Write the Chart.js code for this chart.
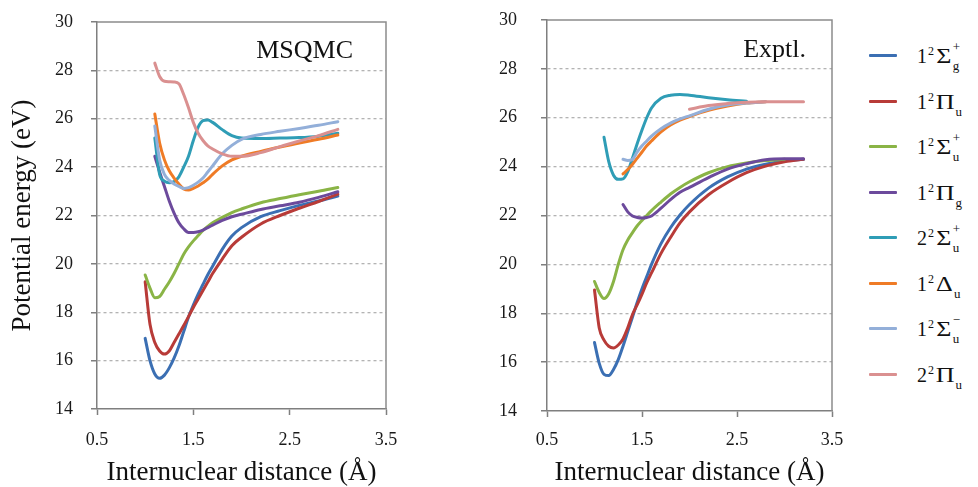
<!DOCTYPE html>
<html lang="en">
<head>
<meta charset="UTF-8">
<title>Potential energy curves: MSQMC vs Exptl.</title>
<style>
  body { margin: 0; background: #fff; font-family: 'Liberation Serif', 'DejaVu Serif', serif; color: #111; }
  #wrap { position: relative; width: 978px; height: 487px; overflow: hidden; }
  #calcBox { position: absolute; left: 0; top: 0; }
  #exptBox { position: absolute; left: 400px; top: 0; }
  .row { position: absolute; left: 869px; height: 24px; width: 109px; }
  .swatch { position: absolute; left: 0; top: 10px; width: 28px; height: 3px; border-radius: 1px; }
  .lab { position: absolute; left: 48px; top: 0; font-size: 20px; line-height: 24px; white-space: nowrap; }
  .lab .n2 { font-size: 12px; position: relative; top: -8px; margin: 0 1px 0 1px; }
  .lab .gr { display: inline-block; transform: scaleX(1.3); margin: 0 2px 0 3px; }
  .ix { display: inline-block; position: relative; width: 10px; height: 24px; vertical-align: top; }
  .ix .p { position: absolute; left: 1px; top: -4px; font-size: 13px; line-height: 13px; }
  .ix .b { position: absolute; left: 1px; top: 15px; font-size: 13px; line-height: 13px; }
</style>
</head>
<body>
<div id="wrap">
  <div id="calcBox"><canvas id="calcChart" width="400" height="487"></canvas></div>
  <div id="exptBox"><canvas id="exptChart" width="450" height="487"></canvas></div>
  <div id="legend"></div>
</div>

<script src="https://cdn.jsdelivr.net/npm/chart.js"></script>
<script>
  // axis ticks
  const xTicks = [0.5, 1.5, 2.5, 3.5];
  const yTicks = [14, 16, 18, 20, 22, 24, 26, 28, 30];

  // states (legend order)
  const stateNum = ['1', '1', '1', '1', '2', '1', '1', '2'];
  const stateSym = ['Σ', 'Π', 'Σ', 'Π', 'Σ', 'Δ', 'Σ', 'Π'];
  const stateSup = ['+', '', '+', '', '+', '', '−', ''];
  const stateSub = ['g', 'u', 'u', 'g', 'u', 'u', 'u', 'u'];
  const stateColors = ['#3b6fb3', '#b83b38', '#8ab446', '#6c4a9c', '#2f9db6', '#ef7b26', '#93afd9', '#da9090'];

  // MSQMC curves, internuclear distance in Å, energy in eV
  const calcR = [1.0, 1.05, 1.1, 1.15, 1.2, 1.25, 1.3, 1.35, 1.4, 1.45, 1.5, 1.55, 1.6, 1.65, 1.7, 1.8, 1.9, 2.0, 2.2, 2.4, 2.6, 2.8, 3.0];
  const calcSigmaGp = [16.92, 16.0, 15.45, 15.27, 15.4, 15.7, 16.1, 16.6, 17.2, 17.8, 18.3, 18.75, 19.15, 19.55, 19.9, 20.6, 21.15, 21.5, 21.95, 22.2, 22.42, 22.6, 22.8];
  const calcPiU = [19.26, 17.5, 16.75, 16.4, 16.27, 16.4, 16.75, 17.1, 17.45, 17.82, 18.2, 18.55, 18.9, 19.25, 19.6, 20.2, 20.75, 21.1, 21.65, 22.0, 22.3, 22.58, 22.88];
  const calcSigmaUp = [19.54, 19.0, 18.6, 18.65, 18.95, 19.25, 19.6, 20.0, 20.4, 20.7, 20.95, 21.17, 21.38, 21.55, 21.7, 21.92, 22.12, 22.27, 22.53, 22.7, 22.86, 23.0, 23.16];
  const calcPiG = [null, null, 24.45, 23.8, 23.2, 22.6, 22.1, 21.7, 21.45, 21.3, 21.3, 21.33, 21.4, 21.5, 21.6, 21.8, 21.95, 22.05, 22.25, 22.4, 22.55, 22.75, 22.98];
  const calcSigmaUp2 = [null, null, 25.2, 23.7, 23.42, 23.35, 23.4, 23.6, 24.0, 24.45, 25.1, 25.65, 25.92, 25.95, 25.85, 25.55, 25.3, 25.2, 25.18, 25.2, 25.22, 25.28, 25.4];
  const calcDeltaU = [null, null, 26.2, 25.0, 24.3, 23.85, 23.55, 23.3, 23.1, 23.05, 23.12, 23.22, 23.35, 23.5, 23.7, 24.05, 24.3, 24.45, 24.65, 24.83, 25.0, 25.15, 25.33];
  const calcSigmaUm = [null, null, 25.7, 24.3, 23.7, 23.45, 23.3, 23.2, 23.12, 23.15, 23.25, 23.38, 23.55, 23.8, 24.05, 24.55, 24.9, 25.15, 25.35, 25.48, 25.6, 25.73, 25.88];
  const calcPiU2 = [null, null, 28.3, 27.75, 27.55, 27.53, 27.52, 27.45, 27.0, 26.45, 25.85, 25.4, 25.1, 24.88, 24.75, 24.55, 24.45, 24.45, 24.6, 24.85, 25.08, 25.3, 25.56];

  // experimental curves
  const exptR = [1.0, 1.05, 1.1, 1.15, 1.2, 1.25, 1.3, 1.35, 1.4, 1.45, 1.5, 1.55, 1.6, 1.7, 1.8, 1.9, 2.0, 2.2, 2.4, 2.6, 2.8, 3.0, 3.2];
  const exptSigmaGp = [16.8, 15.95, 15.5, 15.45, 15.7, 16.1, 16.65, 17.25, 17.85, 18.45, 19.0, 19.5, 20.0, 20.85, 21.5, 22.02, 22.45, 23.12, 23.58, 23.9, 24.1, 24.23, 24.3];
  const exptPiU = [18.95, 17.4, 16.9, 16.65, 16.58, 16.7, 16.95, 17.4, 17.95, 18.35, 18.78, 19.25, 19.65, 20.45, 21.1, 21.7, 22.15, 22.85, 23.35, 23.75, 24.02, 24.2, 24.3];
  const exptSigmaUp = [19.3, 18.85, 18.6, 18.8, 19.3, 20.0, 20.6, 21.0, 21.3, 21.58, 21.8, 22.0, 22.2, 22.55, 22.88, 23.15, 23.38, 23.75, 24.0, 24.15, 24.25, 24.3, null];
  const exptPiG = [null, null, null, null, null, null, 22.45, 22.15, 21.98, 21.92, 21.9, 21.92, 21.98, 22.3, 22.65, 22.95, 23.15, 23.55, 23.9, 24.12, 24.28, 24.32, 24.32];
  const exptSigmaUp2 = [null, null, 25.2, 24.2, 23.65, 23.48, 23.5, 23.8, 24.35, 24.95, 25.5, 26.0, 26.4, 26.8, 26.92, 26.95, 26.92, 26.82, 26.74, 26.68, null, null, null];
  const exptDeltaU = [null, null, null, null, null, null, 23.7, 23.88, 24.1, 24.35, 24.6, 24.85, 25.05, 25.42, 25.7, 25.9, 26.05, 26.3, 26.48, 26.6, 26.65, null, null];
  const exptSigmaUm = [null, null, null, null, null, null, 24.3, 24.25, 24.3, 24.6, 24.85, 25.05, 25.25, 25.55, 25.78, 25.95, 26.08, 26.35, 26.52, 26.6, 26.65, null, null];
  const exptPiU2 = [null, null, null, null, null, null, null, null, null, null, null, null, null, null, null, null, 26.35, 26.5, 26.58, 26.63, 26.65, 26.65, 26.65];

  const serif = "'Liberation Serif', 'DejaVu Serif', serif";
  Chart.defaults.font.family = serif;
  Chart.defaults.color = '#1a1a1a';

  const stateText = i => stateNum[i] + '²' + stateSym[i] + stateSub[i] + stateSup[i];

  // plot box: top and right edges
  const frame = {
    id: 'frame',
    beforeDatasetsDraw(chart) {
      const {ctx, chartArea: a} = chart;
      ctx.save();
      ctx.strokeStyle = '#8c8c8c';
      ctx.lineWidth = 1.5;
      ctx.beginPath();
      ctx.moveTo(a.left, a.top);
      ctx.lineTo(a.right, a.top);
      ctx.lineTo(a.right, a.bottom);
      ctx.stroke();
      ctx.restore();
    }
  };

  const panelLabel = {
    id: 'panelLabel',
    afterDraw(chart, args, opts) {
      const {ctx, chartArea: a} = chart;
      ctx.save();
      ctx.font = '26px ' + serif;
      ctx.fillStyle = '#111';
      ctx.textAlign = 'right';
      ctx.textBaseline = 'alphabetic';
      ctx.fillText(opts.text, a.right - opts.dx, a.top + opts.dy);
      ctx.restore();
    }
  };

  function makeSets(xs, curves) {
    return curves.map((ys, i) => ({
      label: stateText(i),
      data: xs.map((x, k) => ({x: x, y: ys[k]})),
      borderColor: stateColors[i],
      backgroundColor: stateColors[i],
      borderWidth: 3,
      pointRadius: 0,
      cubicInterpolationMode: 'monotone',
      borderCapStyle: 'round',
      borderJoinStyle: 'round',
      fill: false,
      order: curves.length - i
    }));
  }

  function makeScales(yWidth, xHeight, yPad, xPad, yTitle) {
    return {
      x: {
        type: 'linear',
        min: 0.5,
        max: 3.5,
        afterBuildTicks: s => { s.ticks = xTicks.map(v => ({value: v})); },
        afterFit: s => { s.height = xHeight; s.paddingLeft = 0; s.paddingRight = 0; },
        ticks: { padding: xPad, font: {family: serif, size: 18}, color: '#1a1a1a', maxRotation: 0, callback: v => v.toFixed(1) },
        grid: { drawOnChartArea: false, tickLength: 6, tickColor: '#7f7f7f', tickWidth: 1.5 },
        border: { color: '#7f7f7f', width: 1.5 },
        title: { display: true, text: 'Internuclear distance (Å)', color: '#111', font: {family: serif, size: 27, lineHeight: 1}, padding: {top: 0, bottom: 1} }
      },
      y: {
        min: 14,
        max: 30,
        afterBuildTicks: s => { s.ticks = yTicks.map(v => ({value: v})); },
        afterFit: s => { s.width = yWidth; s.paddingTop = 0; s.paddingBottom = 0; },
        ticks: { padding: yPad, font: {family: serif, size: 18}, color: '#1a1a1a' },
        grid: {
          color: c => (c.tick && (c.tick.value === 14 || c.tick.value === 30)) ? 'rgba(0,0,0,0)' : '#b3b3b3',
          lineWidth: 1.3,
          tickBorderDash: [1, 0],
          tickLength: 6,
          tickColor: '#7f7f7f',
          tickWidth: 1.5
        },
        border: { color: '#7f7f7f', width: 1.5, dash: [3, 3] },
        title: { display: !!yTitle, text: yTitle || '', color: '#111', font: {family: serif, size: 27, lineHeight: 1}, padding: {top: 9, bottom: 0} }
      }
    };
  }

  function makeChart(id, xs, curves, pad, scales, label) {
    return new Chart(document.getElementById(id), {
      type: 'line',
      data: { datasets: makeSets(xs, curves) },
      options: {
        responsive: false,
        animation: false,
        devicePixelRatio: 1,
        layout: { padding: pad },
        scales: scales,
        plugins: {
          legend: { display: false },
          tooltip: { enabled: false },
          panelLabel: label
        }
      },
      plugins: [frame, panelLabel]
    });
  }

  makeChart('calcChart', calcR,
    [calcSigmaGp, calcPiU, calcSigmaUp, calcPiG, calcSigmaUp2, calcDeltaU, calcSigmaUm, calcPiU2],
    {top: 22, right: 14, left: 0, bottom: 0},
    makeScales(97, 78, 18, 14, 'Potential energy (eV)'),
    {text: 'MSQMC', dx: 33, dy: 36});

  makeChart('exptChart', exptR,
    [exptSigmaGp, exptPiU, exptSigmaUp, exptPiG, exptSigmaUp2, exptDeltaU, exptSigmaUm, exptPiU2],
    {top: 20, right: 18, left: 0, bottom: 0},
    makeScales(147, 76, 24, 12, ''),
    {text: 'Exptl.', dx: 26, dy: 37});

  // legend with stacked super/subscripts
  const rowCenters = [56, 102, 147, 193, 238, 284, 329, 375];
  const legend = document.getElementById('legend');
  stateNum.forEach((n, i) => {
    const row = document.createElement('div');
    row.className = 'row';
    row.style.top = (rowCenters[i] - 12) + 'px';
    row.innerHTML = '<span class="swatch" style="background:' + stateColors[i] + '"></span>' +
      '<span class="lab">' + n + '<span class="n2">2</span><span class="gr">' + stateSym[i] + '</span>' +
      '<span class="ix"><span class="p">' + stateSup[i] + '</span><span class="b">' + stateSub[i] + '</span></span></span>';
    legend.appendChild(row);
  });
</script>
</body>
</html>
